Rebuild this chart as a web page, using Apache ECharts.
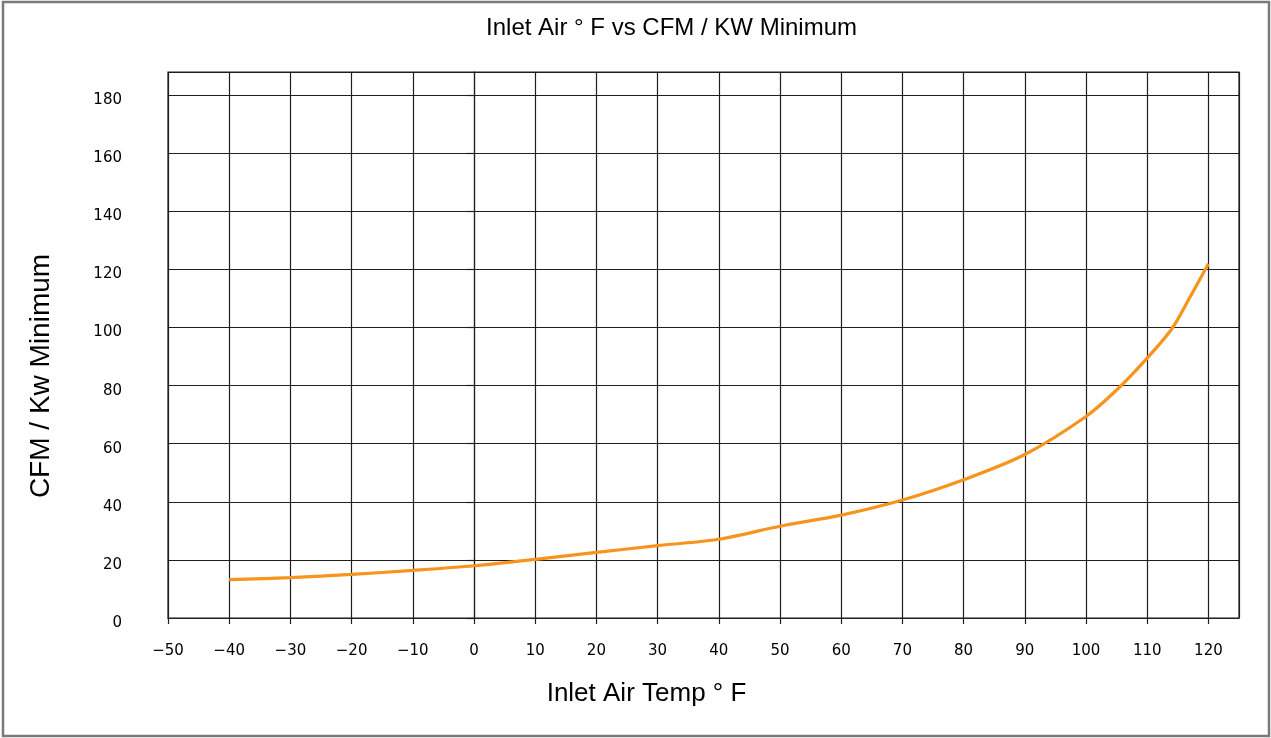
<!DOCTYPE html>
<html>
<head>
<meta charset="utf-8">
<script src="https://cdn.jsdelivr.net/npm/echarts@6/dist/echarts.min.js"></script>
<style>
html,body{margin:0;padding:0;background:#fff;}
#chart{width:1271px;height:738px;}
</style>
</head>
<body>
<div id="chart"></div>
<script>
// Data
const tempF = [-40, -30, -20, -10, 0, 10, 20, 30, 40, 50, 60, 70, 80, 90, 100, 105, 110, 114, 117, 120];
const cfmPerKw = [13.2, 13.9, 15.0, 16.4, 18.0, 20.2, 22.6, 24.9, 27.1, 31.6, 35.4, 40.6, 47.6, 56.3, 69.4, 78.5, 89.5, 99.5, 110.5, 122];
const titleText = 'Inlet Air \u00B0 F vs CFM / KW Minimum';
const xTitle = 'Inlet Air Temp \u00B0 F';
const yTitle = 'CFM / Kw Minimum';

const seriesData = tempF.map((t, i) => [t, cfmPerKw[i]]);
const chart = echarts.init(document.getElementById('chart'));
const gridColor = '#1e1e1e';
chart.setOption({
  backgroundColor: '#fff',
  animation: false,
  grid: {left: 168, top: 72, right: 32, bottom: 120, show: true, borderColor: gridColor, borderWidth: 1.2, backgroundColor: 'transparent'},
  xAxis: {
    type: 'value', min: -50, max: 125, interval: 10,
    axisLine: {show: true, lineStyle: {color: gridColor, width: 1.2}},
    axisTick: {show: true, length: 6, lineStyle: {color: gridColor, width: 1.2}},
    splitLine: {show: true, lineStyle: {color: gridColor, width: 1.2}},
    axisLabel: {
      showMaxLabel: false, margin: 26, color: '#000',
      fontFamily: 'DejaVu Sans', fontSize: 15,
      formatter: v => String(v).replace('-', '\u2212')
    }
  },
  yAxis: {
    type: 'value', min: 0, max: 188, interval: 20,
    axisLine: {show: true, lineStyle: {color: gridColor, width: 1.2}},
    axisTick: {show: true, length: 7, lineStyle: {color: gridColor, width: 1.2}},
    splitLine: {show: true, lineStyle: {color: gridColor, width: 1.2}},
    axisLabel: {showMaxLabel: false, margin: 46, color: '#000', fontFamily: 'DejaVu Sans', fontSize: 15, verticalAlign: 'top', lineHeight: 10}
  },
  graphic: [
    {type: 'rect', silent: true, shape: {x: 3, y: 2, width: 1266, height: 734}, style: {fill: 'none', stroke: '#7a7a7a', lineWidth: 2.5}, z: -1},
    {type: 'text', x: 671.5, y: 28, style: {text: titleText, align: 'center', verticalAlign: 'middle', fontFamily: 'Liberation Sans', fontSize: 24, fill: '#000'}},
    {type: 'text', x: 646.5, y: 694, style: {text: xTitle, align: 'center', verticalAlign: 'middle', fontFamily: 'Liberation Sans', fontSize: 26, fill: '#000'}},
    {type: 'text', x: 41, y: 376, rotation: Math.PI / 2, style: {text: yTitle, align: 'center', verticalAlign: 'middle', fontFamily: 'Liberation Sans', fontSize: 28, fill: '#000'}}
  ],
  series: [{
    type: 'line', data: seriesData, smooth: 0.3, showSymbol: false,
    lineStyle: {color: '#F7941D', width: 3.2}, itemStyle: {color: '#F7941D'}
  }]
});
</script>
</body>
</html>
